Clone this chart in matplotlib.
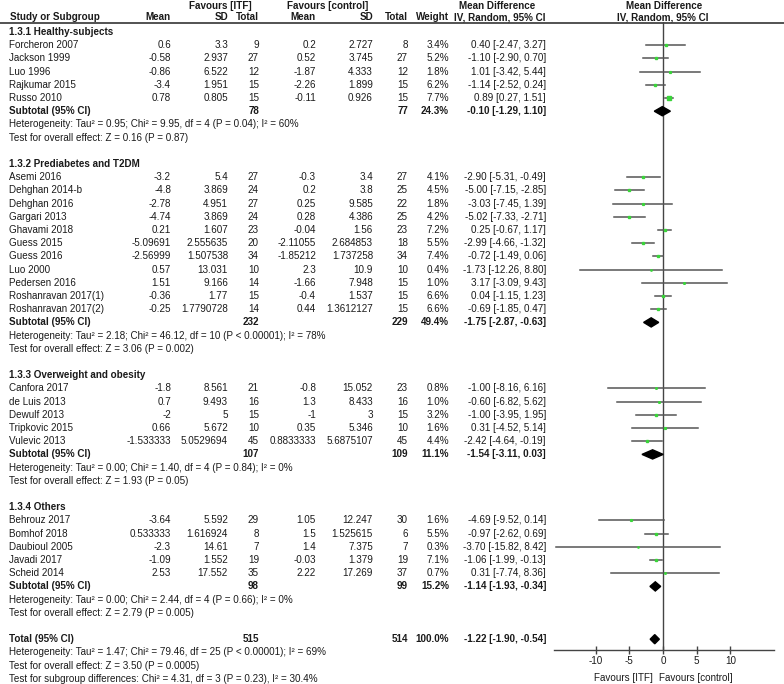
import matplotlib
matplotlib.use("Agg")
import matplotlib.pyplot as plt
from matplotlib.patches import Polygon

plt.rcParams['font.family'] = ['Liberation Sans', 'DejaVu Sans']
plt.rcParams['axes.unicode_minus'] = False
FS = 7.1
TXT = '#1a1a1a'

## subgroup 1.3.1
g1_names = ['Forcheron 2007', 'Jackson 1999', 'Luo 1996', 'Rajkumar 2015', 'Russo 2010']
g1_m1 = ['0.6', '-0.58', '-0.86', '-3.4', '0.78']
g1_sd1 = ['3.3', '2.937', '6.522', '1.951', '0.805']
g1_n1 = ['9', '27', '12', '15', '15']
g1_m2 = ['0.2', '0.52', '-1.87', '-2.26', '-0.11']
g1_sd2 = ['2.727', '3.745', '4.333', '1.899', '0.926']
g1_n2 = ['8', '27', '12', '15', '15']
g1_w = [3.4, 5.2, 1.8, 6.2, 7.7]
g1_md = [0.40, -1.10, 1.01, -1.14, 0.89]
g1_lo = [-2.47, -2.90, -3.42, -2.52, 0.27]
g1_hi = [3.27, 0.70, 5.44, 0.24, 1.51]

## subgroup 1.3.2
g2_names = ['Asemi 2016', 'Dehghan 2014-b', 'Dehghan 2016', 'Gargari 2013', 'Ghavami 2018',
            'Guess 2015', 'Guess 2016', 'Luo 2000', 'Pedersen 2016',
            'Roshanravan 2017(1)', 'Roshanravan 2017(2)']
g2_m1 = ['-3.2', '-4.8', '-2.78', '-4.74', '0.21', '-5.09691', '-2.56999', '0.57', '1.51', '-0.36', '-0.25']
g2_sd1 = ['5.4', '3.869', '4.951', '3.869', '1.607', '2.555635', '1.507538', '13.031', '9.166', '1.77', '1.7790728']
g2_n1 = ['27', '24', '27', '24', '23', '20', '34', '10', '14', '15', '14']
g2_m2 = ['-0.3', '0.2', '0.25', '0.28', '-0.04', '-2.11055', '-1.85212', '2.3', '-1.66', '-0.4', '0.44']
g2_sd2 = ['3.4', '3.8', '9.585', '4.386', '1.56', '2.684853', '1.737258', '10.9', '7.948', '1.537', '1.3612127']
g2_n2 = ['27', '25', '22', '25', '23', '18', '34', '10', '15', '15', '15']
g2_w = [4.1, 4.5, 1.8, 4.2, 7.2, 5.5, 7.4, 0.4, 1.0, 6.6, 6.6]
g2_md = [-2.90, -5.00, -3.03, -5.02, 0.25, -2.99, -0.72, -1.73, 3.17, 0.04, -0.69]
g2_lo = [-5.31, -7.15, -7.45, -7.33, -0.67, -4.66, -1.49, -12.26, -3.09, -1.15, -1.85]
g2_hi = [-0.49, -2.85, 1.39, -2.71, 1.17, -1.32, 0.06, 8.80, 9.43, 1.23, 0.47]

## subgroup 1.3.3
g3_names = ['Canfora 2017', 'de Luis 2013', 'Dewulf 2013', 'Tripkovic 2015', 'Vulevic 2013']
g3_m1 = ['-1.8', '0.7', '-2', '0.66', '-1.533333']
g3_sd1 = ['8.561', '9.493', '5', '5.672', '5.0529694']
g3_n1 = ['21', '16', '15', '10', '45']
g3_m2 = ['-0.8', '1.3', '-1', '0.35', '0.8833333']
g3_sd2 = ['15.052', '8.433', '3', '5.346', '5.6875107']
g3_n2 = ['23', '16', '15', '10', '45']
g3_w = [0.8, 1.0, 3.2, 1.6, 4.4]
g3_md = [-1.00, -0.60, -1.00, 0.31, -2.42]
g3_lo = [-8.16, -6.82, -3.95, -4.52, -4.64]
g3_hi = [6.16, 5.62, 1.95, 5.14, -0.19]

## subgroup 1.3.4
g4_names = ['Behrouz 2017', 'Bomhof 2018', 'Daubioul 2005', 'Javadi 2017', 'Scheid 2014']
g4_m1 = ['-3.64', '0.533333', '-2.3', '-1.09', '2.53']
g4_sd1 = ['5.592', '1.616924', '14.61', '1.552', '17.552']
g4_n1 = ['29', '8', '7', '19', '35']
g4_m2 = ['1.05', '1.5', '1.4', '-0.03', '2.22']
g4_sd2 = ['12.247', '1.525615', '7.375', '1.379', '17.269']
g4_n2 = ['30', '6', '7', '19', '37']
g4_w = [1.6, 5.5, 0.3, 7.1, 0.7]
g4_md = [-4.69, -0.97, -3.70, -1.06, 0.31]
g4_lo = [-9.52, -2.62, -15.82, -1.99, -7.74]
g4_hi = [0.14, 0.69, 8.42, -0.13, 8.36]

## subtotals
sub_titles = ['1.3.1 Healthy-subjects', '1.3.2 Prediabetes and T2DM',
              '1.3.3 Overweight and obesity', '1.3.4 Others']
sub_n1 = ['78', '232', '107', '98']
sub_n2 = ['77', '229', '109', '99']
sub_w = [24.3, 49.4, 11.1, 15.2]
sub_md = [-0.10, -1.75, -1.54, -1.14]
sub_lo = [-1.29, -2.87, -3.11, -1.93]
sub_hi = [1.10, -0.63, 0.03, -0.34]
sub_het = ['Heterogeneity: Tau\u00b2 = 0.95; Chi\u00b2 = 9.95, df = 4 (P = 0.04); I\u00b2 = 60%',
           'Heterogeneity: Tau\u00b2 = 2.18; Chi\u00b2 = 46.12, df = 10 (P < 0.00001); I\u00b2 = 78%',
           'Heterogeneity: Tau\u00b2 = 0.00; Chi\u00b2 = 1.40, df = 4 (P = 0.84); I\u00b2 = 0%',
           'Heterogeneity: Tau\u00b2 = 0.00; Chi\u00b2 = 2.44, df = 4 (P = 0.66); I\u00b2 = 0%']
sub_test = ['Test for overall effect: Z = 0.16 (P = 0.87)',
            'Test for overall effect: Z = 3.06 (P = 0.002)',
            'Test for overall effect: Z = 1.93 (P = 0.05)',
            'Test for overall effect: Z = 2.79 (P = 0.005)']

## overall
tot_n1, tot_n2, tot_w = '515', '514', 100.0
tot_md, tot_lo, tot_hi = -1.22, -1.90, -0.54
tot_lines = ['Heterogeneity: Tau\u00b2 = 1.47; Chi\u00b2 = 79.46, df = 25 (P < 0.00001); I\u00b2 = 69%',
             'Test for overall effect: Z = 3.50 (P = 0.0005)',
             'Test for subgroup differences: Chi\u00b2 = 4.31, df = 3 (P = 0.23), I\u00b2 = 30.4%']

groups = [
    (g1_names, g1_m1, g1_sd1, g1_n1, g1_m2, g1_sd2, g1_n2, g1_w, g1_md, g1_lo, g1_hi),
    (g2_names, g2_m1, g2_sd1, g2_n1, g2_m2, g2_sd2, g2_n2, g2_w, g2_md, g2_lo, g2_hi),
    (g3_names, g3_m1, g3_sd1, g3_n1, g3_m2, g3_sd2, g3_n2, g3_w, g3_md, g3_lo, g3_hi),
    (g4_names, g4_m1, g4_sd1, g4_n1, g4_m2, g4_sd2, g4_n2, g4_w, g4_md, g4_lo, g4_hi),
]

W, H = 784, 684
fig = plt.figure(figsize=(W / 100, H / 100), dpi=100)

# table part in pixel layout
ax_t = fig.add_axes([0, 0, 1, 1])
ax_t.set_xlim(0, W)
ax_t.set_ylim(H, 0)
ax_t.axis('off')

# forest plot part, x in mean difference units
ax_top, ax_bot = 22, 650
ax_f = fig.add_axes([554 / W, (H - ax_bot) / H, (774 - 554) / W, (ax_bot - ax_top) / H])
ax_f.set_xlim(-16.15, 16.45)
ax_f.set_ylim(ax_bot, ax_top)
ax_f.patch.set_alpha(0)
for s in ['top', 'left', 'right']:
    ax_f.spines[s].set_visible(False)
ax_f.spines['bottom'].set_color('#444444')
ax_f.spines['bottom'].set_linewidth(1.0)
ax_f.set_yticks([])
ax_f.set_xticks([-10, -5, 0, 5, 10])
ax_f.tick_params(axis='x', direction='inout', length=6, width=1, color='#444444',
                 labelsize=FS, labelcolor=TXT, pad=1)
ax_f.axvline(0, color='#444444', lw=1.0, zorder=1)

# column x positions (right edges)
col_x = [171, 228, 259, 316, 373, 408]
x_w, x_ci, x_name = 449, 546, 9


def row_y(k):
    return 32 + 13.2 * k


def txt(x, k, s, ha='right', bold=False):
    ax_t.text(x, row_y(k), s, ha=ha, va='center', fontsize=FS, color=TXT,
              fontweight='bold' if bold else 'normal')


def diamond(k, md, lo, hi):
    y = row_y(k)
    ax_f.add_patch(Polygon([[lo, y], [md, y - 4.6], [hi, y], [md, y + 4.6]],
                           closed=True, color='black', zorder=3))


# headers
ax_t.text(220, 6, 'Favours [ITF]', ha='center', va='center', fontsize=FS, fontweight='bold', color=TXT)
ax_t.text(328, 6, 'Favours [control]', ha='center', va='center', fontsize=FS, fontweight='bold', color=TXT)
ax_t.text(497, 6, 'Mean Difference', ha='center', va='center', fontsize=FS, fontweight='bold', color=TXT)
ax_t.text(664, 6, 'Mean Difference', ha='center', va='center', fontsize=FS, fontweight='bold', color=TXT)
hdr = ['Mean', 'SD', 'Total', 'Mean', 'SD', 'Total']
hy = 17.5
for x, s in zip(col_x, hdr):
    ax_t.text(x, hy, s, ha='right', va='center', fontsize=FS, fontweight='bold', color=TXT)
ax_t.text(x_name + 1, hy, 'Study or Subgroup', ha='left', va='center', fontsize=FS, fontweight='bold', color=TXT)
ax_t.text(x_w, hy, 'Weight', ha='right', va='center', fontsize=FS, fontweight='bold', color=TXT)
ax_t.text(x_ci, hy, 'IV, Random, 95% CI', ha='right', va='center', fontsize=FS, fontweight='bold', color=TXT)
ax_t.text(663, hy, 'IV, Random, 95% CI', ha='center', va='center', fontsize=FS, fontweight='bold', color=TXT)
ax_t.axhline(23, color='#444444', lw=1.3)

k = 0
for gi, g in enumerate(groups):
    names, m1, sd1, n1, m2, sd2, n2, w, md, lo, hi = g
    txt(x_name, k, sub_titles[gi], ha='left', bold=True)
    k += 1
    for i in range(len(names)):
        txt(x_name, k, names[i], ha='left')
        for x, s in zip(col_x, [m1[i], sd1[i], n1[i], m2[i], sd2[i], n2[i]]):
            txt(x, k, s)
        txt(x_w, k, '%.1f%%' % w[i])
        txt(x_ci, k, '%.2f [%.2f, %.2f]' % (md[i], lo[i], hi[i]))
        ax_f.plot([lo[i], hi[i]], [row_y(k)] * 2, color='#555555', lw=1.1, zorder=2)
        ax_f.plot(md[i], row_y(k), 's', color='#3ad43a', mec='#3ad43a',
                  ms=0.6 * w[i] ** 0.5 + 0.5, zorder=3)
        k += 1
    txt(x_name, k, 'Subtotal (95% CI)', ha='left', bold=True)
    txt(col_x[2], k, sub_n1[gi], bold=True)
    txt(col_x[5], k, sub_n2[gi], bold=True)
    txt(x_w, k, '%.1f%%' % sub_w[gi], bold=True)
    txt(x_ci, k, '%.2f [%.2f, %.2f]' % (sub_md[gi], sub_lo[gi], sub_hi[gi]), bold=True)
    diamond(k, sub_md[gi], sub_lo[gi], sub_hi[gi])
    k += 1
    txt(x_name, k, sub_het[gi], ha='left')
    k += 1
    txt(x_name, k, sub_test[gi], ha='left')
    k += 2

txt(x_name, k, 'Total (95% CI)', ha='left', bold=True)
txt(col_x[2], k, tot_n1, bold=True)
txt(col_x[5], k, tot_n2, bold=True)
txt(x_w, k, '%.1f%%' % tot_w, bold=True)
txt(x_ci, k, '%.2f [%.2f, %.2f]' % (tot_md, tot_lo, tot_hi), bold=True)
diamond(k, tot_md, tot_lo, tot_hi)
for line in tot_lines:
    k += 1
    txt(x_name, k, line, ha='left')

ax_t.text(653, 678, 'Favours [ITF]', ha='right', va='center', fontsize=FS, color=TXT)
ax_t.text(659, 678, 'Favours [control]', ha='left', va='center', fontsize=FS, color=TXT)

fig.savefig('out.png', dpi=100)
